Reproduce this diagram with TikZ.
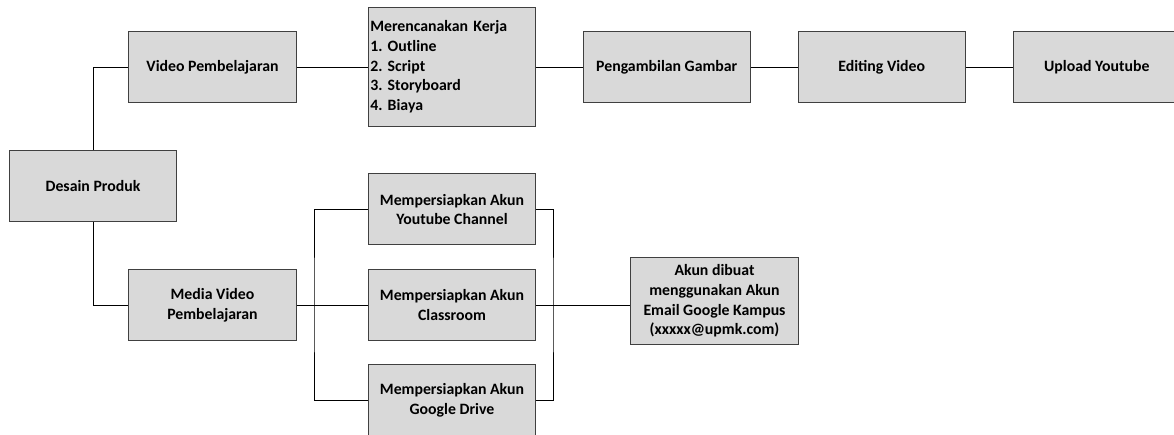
\documentclass[tikz,border=0pt]{standalone}
\usepackage{fontspec}
\setmainfont{Carlito}

\begin{document}
\begin{tikzpicture}[x=1pt, y=-1pt,
  box/.style={draw=black!75, fill=black!15, line width=1pt, minimum width=167.5pt,
    minimum height=71pt, inner sep=2pt, align=center,
    font=\bfseries\fontsize{15.8}{19.7}\selectfont\frenchspacing},
  link/.style={line width=0.9pt}]

\useasboundingbox (0,0) rectangle (1174,435);
\clip (0,0) rectangle (1174,435);

% jalur video
\node[box] (desain) at (93,186) {Desain Produk};
\node[box] (video) at (212.5,67) {Video Pembelajaran};
\node[box, minimum height=119pt, text width=163.5pt, align=left] (rencana) at (452,67)
  {Merencanakan Kerja\\1. Outline\\2. Script\\3. Storyboard\\4. Biaya};
\node[box] (ambil) at (666.75,67) {Pengambilan Gambar};
\node[box] (edit) at (881.75,67) {Editing Video};
\node[box] (upload) at (1096.75,67) {Upload Youtube};

% jalur media
\node[box] (media) at (212.5,305) {Media Video\\Pembelajaran};
\node[box] (youtube) at (452,209.5) {Mempersiapkan Akun\\Youtube Channel};
\node[box] (kelas) at (452,305) {Mempersiapkan Akun\\Classroom};
\node[box] (drive) at (452,400) {Mempersiapkan Akun\\Google Drive};
\node[box, minimum height=86pt] (akun) at (714.5,301)
  {Akun dibuat\\menggunakan Akun\\Email Google Kampus\\(xxxxx@upmk.com)};

\coordinate (busL) at (314,305);
\coordinate (busR) at (553,305);

\begin{scope}[link]
\draw (desain.north) |- (video.west);
\draw (desain.south) |- (media.west);
\draw (video.east) -- (rencana.west);
\draw (rencana.east) -- (ambil.west);
\draw (ambil.east) -- (edit.west);
\draw (edit.east) -- (upload.west);
\draw (media.east) -- (kelas.west);
\draw (youtube.west) -| (busL) |- (drive.west);
\draw (youtube.east) -| (busR) |- (drive.east);
\draw (kelas.east) -- (kelas.east -| akun.west);
\end{scope}

\end{tikzpicture}
\end{document}
